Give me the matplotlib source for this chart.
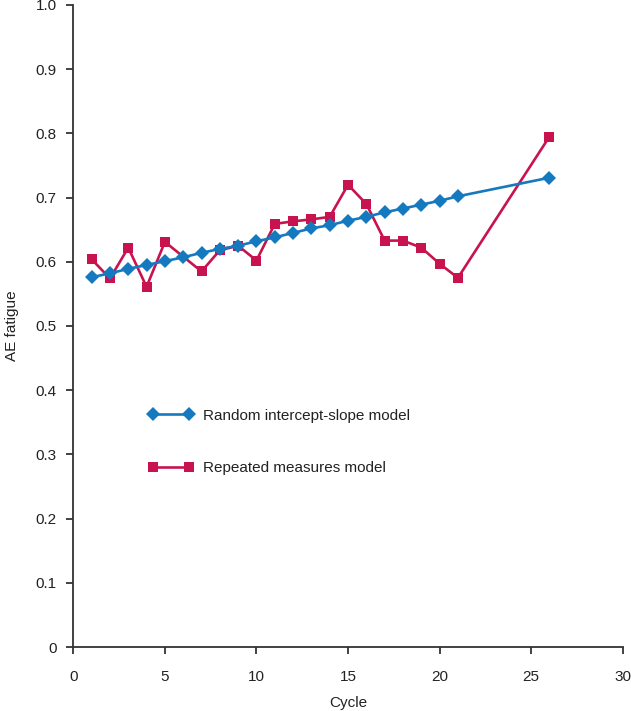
import matplotlib
matplotlib.use("Agg")
import matplotlib.pyplot as plt

plt.rcParams['font.family'] = ['Liberation Sans', 'DejaVu Sans']

cycles_ris = [1, 2, 3, 4, 5, 6, 7, 8, 9, 10, 11, 12, 13, 14, 15, 16, 17, 18, 19, 20, 21, 26]
ris_values = [0.576, 0.582, 0.589, 0.595, 0.601, 0.607, 0.614, 0.620, 0.625, 0.632, 0.638,
              0.645, 0.652, 0.657, 0.664, 0.670, 0.677, 0.683, 0.689, 0.695, 0.702, 0.731]

cycles_rm = [1, 2, 3, 4, 5, 7, 8, 9, 10, 11, 12, 13, 14, 15, 16, 17, 18, 19, 20, 21, 26]
rm_values = [0.604, 0.574, 0.622, 0.561, 0.631, 0.585, 0.618, 0.625, 0.602, 0.659, 0.663,
             0.666, 0.670, 0.720, 0.690, 0.633, 0.633, 0.622, 0.597, 0.575, 0.795]

labels = ["Random intercept-slope model", "Repeated measures model"]
x_ticks = [0, 5, 10, 15, 20, 25, 30]
y_ticks = [0, 0.1, 0.2, 0.3, 0.4, 0.5, 0.6, 0.7, 0.8, 0.9, 1.0]
y_tick_labels = ["0", "0.1", "0.2", "0.3", "0.4", "0.5", "0.6", "0.7", "0.8", "0.9", "1.0"]

BLUE = "#1579c0"
RED = "#c8134f"
TEXT = "#222222"
AXC = "#333333"
FS = 11

fig = plt.figure(figsize=(6.31, 7.11), dpi=100)
ax = fig.add_axes([0.1162, 0.0900, 0.8707, 0.9030])

ax.plot(cycles_ris, ris_values, color=BLUE, lw=1.9, marker='D', ms=7,
        markeredgewidth=0, label=labels[0], zorder=3)
ax.plot(cycles_rm, rm_values, color=RED, lw=1.9, marker='s', ms=7.6,
        markeredgewidth=0, label=labels[1], zorder=2)

ax.set_xlim(0, 30)
ax.set_ylim(0, 1.0)
ax.set_xticks(x_ticks)
ax.set_yticks(y_ticks)
ax.set_yticklabels(y_tick_labels)
for s in ['top', 'right']:
    ax.spines[s].set_visible(False)
for s in ['left', 'bottom']:
    ax.spines[s].set_color(AXC)
    ax.spines[s].set_linewidth(1.3)
ax.tick_params(direction='out', length=5, width=1.3, color=AXC,
               labelsize=FS, labelcolor=TEXT)
ax.tick_params(axis='x', pad=11.5)
ax.tick_params(axis='y', pad=7)
ax.set_xlabel("Cycle", fontsize=FS, color=TEXT, labelpad=9)
ax.set_ylabel("AE fatigue", fontsize=FS, color=TEXT, labelpad=12)

leg = ax.legend(loc='upper left', bbox_to_anchor=(0.137, 0.371), frameon=False,
                fontsize=FS, numpoints=2, handlelength=2.95, handletextpad=0.63,
                labelspacing=2.52, borderpad=0, borderaxespad=0)
for t in leg.get_texts():
    t.set_color(TEXT)

fig.savefig("out.png", dpi=100)
